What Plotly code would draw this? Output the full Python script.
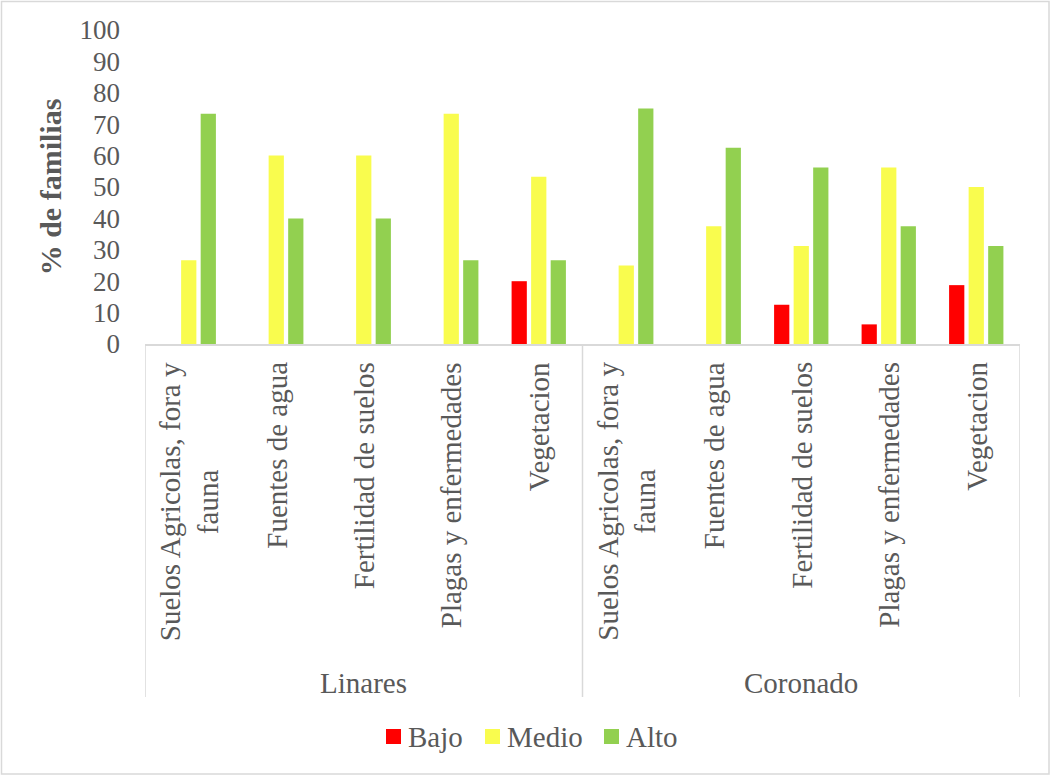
import plotly.graph_objects as go

# Survey results: share of families by perceived level, per locality and resource
localidades = ["Linares", "Coronado"]
recursos = [
    "Suelos Agricolas, fora y<br>fauna",
    "Fuentes de agua",
    "Fertilidad de suelos",
    "Plagas y enfermedades",
    "Vegetacion",
]
niveles = ["Bajo", "Medio", "Alto"]
colores = ["#FF0000", "#F9FC4E", "#92D050"]

bajo = [0, 0, 0, 0, 20.0, 0, 0, 12.5, 6.25, 18.75]
medio = [26.7, 60.0, 60.0, 73.3, 53.3, 25.0, 37.5, 31.25, 56.25, 50.0]
alto = [73.3, 40.0, 40.0, 26.7, 26.7, 75.0, 62.5, 56.25, 37.5, 31.25]
series = [bajo, medio, alto]

W, H = 1051, 776
ML, MR, MT, MB = 145, 31, 30, 432
PW, PH = W - ML - MR, H - MT - MB

FONT = "Liberation Serif, Times New Roman, serif"
GRIS = "#595959"
LINEA = "#D9D9D9"

n_rec = len(recursos)
posiciones = list(range(len(localidades) * n_rec))

fig = go.Figure()
for nombre, color, valores in zip(niveles, colores, series):
    fig.add_trace(go.Bar(x=posiciones, y=valores, name=nombre, showlegend=False,
                         marker=dict(color=color, line=dict(width=0))))


def py(px):
    """Pixel row -> paper y."""
    return (MT + PH - px) / PH


def pxp(px):
    """Pixel column -> paper x."""
    return (px - ML) / PW


annotations = []
shapes = []
# inner category labels (rotated)
for g, loc in enumerate(localidades):
    for i, rec in enumerate(recursos):
        annotations.append(dict(
            x=g * n_rec + i, xref="x", y=py(360), yref="paper",
            text=rec, textangle=-90, showarrow=False,
            xanchor="center", yanchor="top", align="center",
            font=dict(family=FONT, size=29, color=GRIS)))
    # group label
    annotations.append(dict(
        x=g * n_rec + (n_rec - 1) / 2, xref="x", y=py(683), yref="paper",
        text=loc, showarrow=False, xanchor="center", yanchor="middle",
        font=dict(family=FONT, size=29, color=GRIS)))

# group dividers
for xd in [-0.5, n_rec - 0.5, 2 * n_rec - 0.5]:
    shapes.append(dict(type="line", xref="x", yref="paper", x0=xd, x1=xd,
                       y0=0, y1=py(697), line=dict(color=LINEA, width=1.5)))

# legend: colour swatch + label per level
ley_x = [386, 485, 604]
for nombre, color, x0 in zip(niveles, colores, ley_x):
    shapes.append(dict(type="rect", xref="paper", yref="paper",
                       x0=pxp(x0), x1=pxp(x0 + 15), y0=py(729), y1=py(744),
                       fillcolor=color, line=dict(width=0)))
    annotations.append(dict(
        x=pxp(x0 + 20), xref="paper", y=py(737), yref="paper",
        text=nombre, showarrow=False, xanchor="left", yanchor="middle",
        font=dict(family=FONT, size=29, color=GRIS)))

# outer frame
shapes.append(dict(type="rect", xref="paper", yref="paper",
                   x0=pxp(1.5), x1=pxp(W - 2), y0=py(1.5), y1=py(H - 2),
                   line=dict(color=LINEA, width=1.5), fillcolor="rgba(0,0,0,0)",
                   layer="below"))

fig.update_layout(
    width=W, height=H,
    margin=dict(l=ML, r=MR, t=MT, b=MB, autoexpand=False),
    paper_bgcolor="white", plot_bgcolor="white",
    barmode="group", bargap=0.33, bargroupgap=0.22,
    font=dict(family=FONT, color=GRIS, size=27),
    showlegend=False,
    annotations=annotations, shapes=shapes,
)
fig.update_xaxes(range=[-0.5, len(posiciones) - 0.5], showticklabels=False,
                 showline=True, linecolor=LINEA, linewidth=1.5,
                 showgrid=False, zeroline=False, ticks="")
fig.update_yaxes(range=[0, 100], dtick=10, tick0=0, showgrid=False,
                 zeroline=False, showline=False, ticks="",
                 ticklabelstandoff=24,
                 tickfont=dict(family=FONT, size=27, color=GRIS),
                 title=dict(text="<b>% de familias</b>", standoff=9,
                            font=dict(family=FONT, size=30, color=GRIS)))

fig.write_html("out.html")
